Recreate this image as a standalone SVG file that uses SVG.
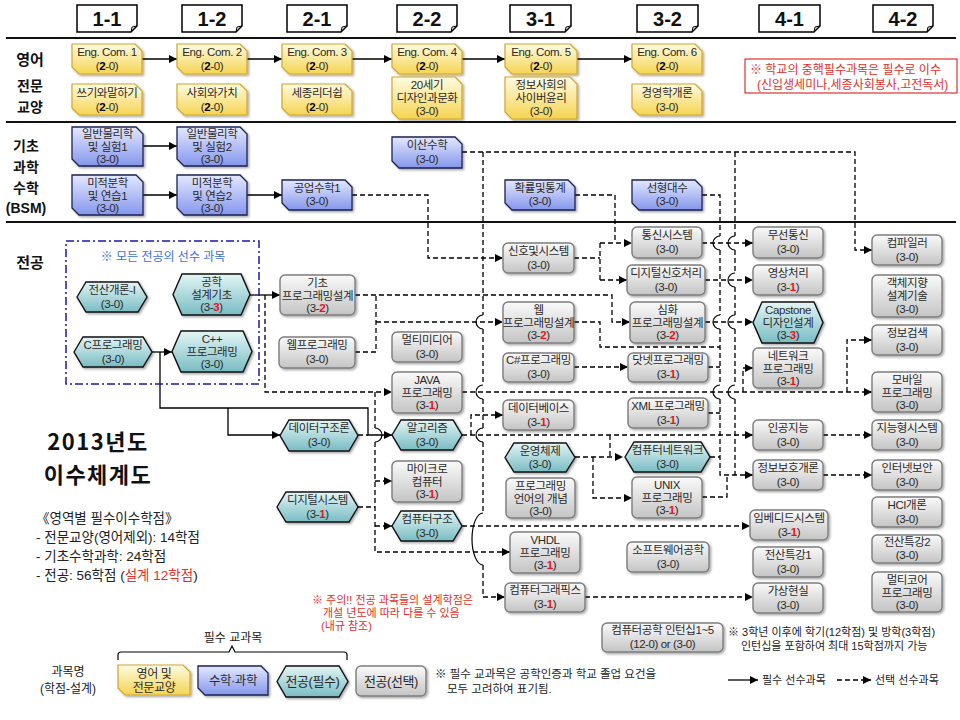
<svg xmlns="http://www.w3.org/2000/svg" width="960" height="720" viewBox="0 0 960 720">
<defs>
<linearGradient id="gy" x1="0" y1="0" x2="0" y2="1"><stop offset="0" stop-color="#fffbe2"/><stop offset="1" stop-color="#f5d452"/></linearGradient>
<linearGradient id="gb" x1="0" y1="0" x2="0" y2="1"><stop offset="0" stop-color="#e3e8ff"/><stop offset="1" stop-color="#8596ec"/></linearGradient>
<linearGradient id="gt" x1="0" y1="0" x2="0" y2="1"><stop offset="0" stop-color="#e4f5f5"/><stop offset="1" stop-color="#78bcc3"/></linearGradient>
<linearGradient id="gg" x1="0" y1="0" x2="0" y2="1"><stop offset="0" stop-color="#fafafa"/><stop offset="1" stop-color="#c4c4c4"/></linearGradient>
<filter id="sh" x="-10%" y="-10%" width="130%" height="140%"><feDropShadow dx="1.5" dy="1.5" stdDeviation="1" flood-color="#000" flood-opacity="0.35"/></filter>
<marker id="ar" viewBox="0 0 10 10" refX="10" refY="5" markerWidth="8" markerHeight="8" markerUnits="userSpaceOnUse" orient="auto"><path d="M0,0 L10,5 L0,10 Z" fill="#000"/></marker>
</defs>
<style>
.t{font-family:"Liberation Sans","Noto Sans CJK KR",sans-serif;font-size:11.5px;fill:#2a2a2a;text-anchor:middle;letter-spacing:-0.4px}
.r{fill:#e8141e;font-weight:bold}
.b{font-weight:bold;fill:#000}
.yl{fill:url(#gy);stroke:#d2a62a;stroke-width:1.2;filter:url(#sh)}
.bl{fill:url(#gb);stroke:#1c2250;stroke-width:1.3;filter:url(#sh)}
.te{fill:url(#gt);stroke:#111;stroke-width:1.4;filter:url(#sh)}
.gr{fill:url(#gg);stroke:#7d7d7d;stroke-width:1.4;filter:url(#sh)}
.hd{fill:#fff;stroke:#000;stroke-width:1.5}
.ht{font-family:"Liberation Sans",sans-serif;font-size:20px;font-weight:bold;text-anchor:middle;fill:#111}
.lab{font-family:"Noto Sans CJK KR",sans-serif;font-size:14px;font-weight:bold;text-anchor:middle;fill:#111}
.sep{stroke:#111;stroke-width:2}
.s{stroke:#000;stroke-width:1.3;fill:none}
.d{stroke:#000;stroke-width:1.3;fill:none;stroke-dasharray:5 3}
.arc{stroke:#000;stroke-width:1.2;fill:none}
.n{font-family:"Liberation Sans","Noto Sans CJK KR",sans-serif;font-size:11px;fill:#222}
.red{fill:#e0302a}
</style>
<rect width="960" height="720" fill="#fff"/>

<g id="separators">
<line class="sep" x1="6" y1="38" x2="956" y2="38"/>
<line class="sep" x1="6" y1="122" x2="956" y2="122"/>
<line class="sep" x1="6" y1="222" x2="956" y2="222"/>
</g>

<g id="headers">
<g id="h11"><path class="hd" d="M77,5 H137 V26 L131,32 H77 Z"/><path d="M131,32 L132,27 L137,26" fill="none" stroke="#000"/><text class="ht" x="107" y="26">1-1</text></g>
<g id="h12"><path class="hd" d="M182,5 H242 V26 L236,32 H182 Z"/><path d="M236,32 L237,27 L242,26" fill="none" stroke="#000"/><text class="ht" x="212" y="26">1-2</text></g>
<g id="h21"><path class="hd" d="M287,5 H347 V26 L341,32 H287 Z"/><path d="M341,32 L342,27 L347,26" fill="none" stroke="#000"/><text class="ht" x="317" y="26">2-1</text></g>
<g id="h22"><path class="hd" d="M397,5 H457 V26 L451,32 H397 Z"/><path d="M451,32 L452,27 L457,26" fill="none" stroke="#000"/><text class="ht" x="427" y="26">2-2</text></g>
<g id="h31"><path class="hd" d="M510,5 H571 V26 L565,32 H510 Z"/><path d="M565,32 L566,27 L571,26" fill="none" stroke="#000"/><text class="ht" x="540.5" y="26">3-1</text></g>
<g id="h32"><path class="hd" d="M637,5 H698 V26 L692,32 H637 Z"/><path d="M692,32 L693,27 L698,26" fill="none" stroke="#000"/><text class="ht" x="667.5" y="26">3-2</text></g>
<g id="h41"><path class="hd" d="M759,5 H820 V26 L814,32 H759 Z"/><path d="M814,32 L815,27 L820,26" fill="none" stroke="#000"/><text class="ht" x="789.5" y="26">4-1</text></g>
<g id="h42"><path class="hd" d="M873,5 H933 V26 L927,32 H873 Z"/><path d="M927,32 L928,27 L933,26" fill="none" stroke="#000"/><text class="ht" x="903" y="26">4-2</text></g>
</g>

<g id="rowlabels">
<text class="lab" x="30" y="65" style="font-size:15px">영어</text>
<text class="lab" x="30" y="91">전문</text>
<text class="lab" x="30" y="112">교양</text>
<text class="lab" x="26" y="151">기초</text>
<text class="lab" x="26" y="172">과학</text>
<text class="lab" x="26" y="193">수학</text>
<text class="lab" x="26" y="213" style="font-family:'Liberation Sans',sans-serif">(BSM)</text>
<text class="lab" x="30" y="268" style="font-size:15px">전공</text>
</g>

<g id="connectors">
<path class="s" marker-end="url(#ar)" d="M142,59 H177"/>
<path class="s" marker-end="url(#ar)" d="M247,59 H282"/>
<path class="s" marker-end="url(#ar)" d="M352,59 H392"/>
<path class="s" marker-end="url(#ar)" d="M462,59 H505"/>
<path class="s" marker-end="url(#ar)" d="M577,59 H632"/>
<path class="s" marker-end="url(#ar)" d="M143,146 H177"/>
<path class="s" marker-end="url(#ar)" d="M143,195 H177"/>
<path class="s" marker-end="url(#ar)" d="M247,195 H282"/>
<path class="d" marker-end="url(#ar)" d="M352,195 H428 V258 H503"/>
<path class="d" marker-end="url(#ar)" d="M462,152 H855 V250 H872"/>
<path class="d" d="M575,195 H615 V243"/>
<path class="d" marker-end="url(#ar)" d="M483,152 V315 M483,329 V385 M483,399 V428 M483,442 V513 M483,565 V597 H505"/>
<path class="arc" d="M483,315 A7,7 0 0 0 483,329 M483,385 A7,7 0 0 0 483,399 M483,428 A7,7 0 0 0 483,442 M483,513 A11,26 0 0 0 483,565"/>
<path class="d" marker-end="url(#ar)" d="M702,195 H720 V236 M720,250 V315 M720,329 V385 M720,399 V475 H753"/>
<path class="arc" d="M720,236 A7,7 0 0 0 720,250 M720,315 A7,7 0 0 0 720,329 M720,385 A7,7 0 0 0 720,399"/>
<path class="d" d="M735,152 V236 M735,250 V273 M735,287 V315 M735,329 V385 M735,399 V475"/>
<path class="arc" d="M735,236 A7,7 0 0 0 735,250 M735,273 A7,7 0 0 0 735,287 M735,315 A7,7 0 0 0 735,329 M735,385 A7,7 0 0 0 735,399"/>
<path class="d" d="M574,258 H600 M600,243 V280"/>
<path class="d" marker-end="url(#ar)" d="M600,243 H632"/>
<path class="d" marker-end="url(#ar)" d="M600,280 H627"/>
<path class="d" marker-end="url(#ar)" d="M702,243 H753"/>
<path class="d" marker-end="url(#ar)" d="M705,280 H753"/>
<path class="d" marker-end="url(#ar)" d="M705,322 H753"/>
<path class="s" marker-end="url(#ar)" d="M250,295 H280"/>
<path class="d" marker-end="url(#ar)" d="M355,295 H612 V322 H630"/>
<path class="d" d="M355,352 H376 V295"/>
<path class="d" marker-end="url(#ar)" d="M376,322 H503"/>
<path class="d" d="M574,322 H600 V347 H720"/>
<path class="d" marker-end="url(#ar)" d="M265,295 V392 H392"/>
<path class="d" marker-end="url(#ar)" d="M462,392 H872"/>
<path class="d" marker-end="url(#ar)" d="M743,392 V368 H753"/>
<path class="d" marker-end="url(#ar)" d="M847,392 V340 H872"/>
<path class="d" marker-end="url(#ar)" d="M574,367 H628"/>
<path class="d" d="M708,367 H720 M708,413 H720 M710,457 H720"/>
<path class="s" marker-end="url(#ar)" d="M152,352 H172"/>
<path class="s" marker-end="url(#ar)" d="M160,352 V408 H368 V435 H392"/>
<path class="s" marker-end="url(#ar)" d="M228,408 V435 H280"/>
<path class="d" d="M358,435 H368"/>
<path class="d" marker-end="url(#ar)" d="M375,392 V428 M375,442 V552 H510"/>
<path class="arc" d="M375,428 A7,7 0 0 1 375,442"/>
<path class="d" d="M358,507 H375"/>
<path class="d" marker-end="url(#ar)" d="M375,481 H392"/>
<path class="d" marker-end="url(#ar)" d="M375,526 H392"/>
<path class="d" marker-end="url(#ar)" d="M462,435 H753"/>
<path class="d" marker-end="url(#ar)" d="M471,435 V415 H503"/>
<path class="d" d="M610,435 V457"/>
<path class="d" marker-end="url(#ar)" d="M575,457 H623"/>
<path class="d" marker-end="url(#ar)" d="M593,457 V498 H632"/>
<path class="d" d="M702,497 H727 V475"/>
<path class="d" marker-end="url(#ar)" d="M462,526 H750"/>
<path class="d" marker-end="url(#ar)" d="M585,597 H753"/>
<path class="d" marker-end="url(#ar)" d="M823,435 H872"/>
<path class="d" marker-end="url(#ar)" d="M823,475 H872"/>
</g>

<g id="core-frame">
<rect x="66" y="241" width="193" height="143" fill="none" stroke="#1a1aa8" stroke-width="1.5" stroke-dasharray="8 3 2 3"/>
<text class="n" x="163" y="261" text-anchor="middle" style="fill:#3a70d0;font-size:12px">※ 모든 전공의 선수 과목</text>
</g>

<g id="eng1"><path class="yl" d="M72,44 H135 L142,51 V74 H79 L72,67 Z"/><text class="t" x="107" y="56">Eng. Com. 1</text><text class="t" x="107" y="70">(<tspan class="b">2</tspan>-0)</text></g>
<g id="eng2"><path class="yl" d="M177,44 H240 L247,51 V74 H184 L177,67 Z"/><text class="t" x="212" y="56">Eng. Com. 2</text><text class="t" x="212" y="70">(<tspan class="b">2</tspan>-0)</text></g>
<g id="eng3"><path class="yl" d="M282,44 H345 L352,51 V74 H289 L282,67 Z"/><text class="t" x="317" y="56">Eng. Com. 3</text><text class="t" x="317" y="70">(<tspan class="b">2</tspan>-0)</text></g>
<g id="eng4"><path class="yl" d="M392,44 H455 L462,51 V74 H399 L392,67 Z"/><text class="t" x="427" y="56">Eng. Com. 4</text><text class="t" x="427" y="70">(<tspan class="b">2</tspan>-0)</text></g>
<g id="eng5"><path class="yl" d="M505,44 H570 L577,51 V74 H512 L505,67 Z"/><text class="t" x="541" y="56">Eng. Com. 5</text><text class="t" x="541" y="70">(<tspan class="b">2</tspan>-0)</text></g>
<g id="eng6"><path class="yl" d="M632,44 H695 L702,51 V74 H639 L632,67 Z"/><text class="t" x="667" y="56">Eng. Com. 6</text><text class="t" x="667" y="70">(<tspan class="b">2</tspan>-0)</text></g>
<g id="ge1"><path class="yl" d="M72,84 H135 L142,91 V115 H79 L72,108 Z"/><text class="t" x="107" y="97">쓰기와말하기</text><text class="t" x="107" y="111">(<tspan class="b">2</tspan>-0)</text></g>
<g id="ge2"><path class="yl" d="M177,84 H240 L247,91 V115 H184 L177,108 Z"/><text class="t" x="212" y="97">사회와가치</text><text class="t" x="212" y="111">(<tspan class="b">2</tspan>-0)</text></g>
<g id="ge3"><path class="yl" d="M282,84 H345 L352,91 V115 H289 L282,108 Z"/><text class="t" x="317" y="97">세종리더쉽</text><text class="t" x="317" y="111">(<tspan class="b">2</tspan>-0)</text></g>
<g id="ge4"><path class="yl" d="M392,77 H455 L462,84 V119 H399 L392,112 Z"/><text class="t" x="427" y="89">20세기</text><text class="t" x="427" y="102">디자인과문화</text><text class="t" x="427" y="115">(3-0)</text></g>
<g id="ge5"><path class="yl" d="M505,77 H570 L577,84 V119 H512 L505,112 Z"/><text class="t" x="541" y="89">정보사회의</text><text class="t" x="541" y="102">사이버윤리</text><text class="t" x="541" y="115">(3-0)</text></g>
<g id="ge6"><path class="yl" d="M632,84 H695 L702,91 V115 H639 L632,108 Z"/><text class="t" x="667" y="97">경영학개론</text><text class="t" x="667" y="111">(3-0)</text></g>

<g id="note-core">
<rect x="745" y="59" width="212" height="34" fill="#fff" stroke="#e03030" stroke-width="1.2"/>
<text class="n red" x="750" y="74" style="font-size:12px">※ 학교의 중핵필수과목은 필수로 이수</text>
<text class="n red" x="757" y="89" style="font-size:12px">(신입생세미나,세종사회봉사,고전독서)</text>
</g>

<g id="phy1"><path class="bl" d="M72,127 H136 L143,134 V166 H79 L72,159 Z"/><text class="t" x="107.5" y="138">일반물리학</text><text class="t" x="107.5" y="151">및 실험1</text><text class="t" x="107.5" y="163">(3-0)</text></g>
<g id="phy2"><path class="bl" d="M177,127 H240 L247,134 V166 H184 L177,159 Z"/><text class="t" x="212" y="138">일반물리학</text><text class="t" x="212" y="151">및 실험2</text><text class="t" x="212" y="163">(3-0)</text></g>
<g id="cal1"><path class="bl" d="M72,175 H136 L143,182 V215 H79 L72,208 Z"/><text class="t" x="107.5" y="187">미적분학</text><text class="t" x="107.5" y="200">및 연습1</text><text class="t" x="107.5" y="212">(3-0)</text></g>
<g id="cal2"><path class="bl" d="M177,175 H240 L247,182 V215 H184 L177,208 Z"/><text class="t" x="212" y="187">미적분학</text><text class="t" x="212" y="200">및 연습2</text><text class="t" x="212" y="212">(3-0)</text></g>
<g id="engmath"><path class="bl" d="M282,180 H345 L352,187 V210 H289 L282,203 Z"/><text class="t" x="317" y="192">공업수학1</text><text class="t" x="317" y="205">(3-0)</text></g>
<g id="discrete"><path class="bl" d="M392,137 H455 L462,144 V168 H399 L392,161 Z"/><text class="t" x="427" y="149">이산수학</text><text class="t" x="427" y="163">(3-0)</text></g>
<g id="prob"><path class="bl" d="M505,180 H568 L575,187 V210 H512 L505,203 Z"/><text class="t" x="540" y="192">확률및통계</text><text class="t" x="540" y="205">(3-0)</text></g>
<g id="linalg"><path class="bl" d="M632,180 H695 L702,187 V210 H639 L632,203 Z"/><text class="t" x="667" y="192">선형대수</text><text class="t" x="667" y="205">(3-0)</text></g>

<g id="intro"><path class="te" d="M77,297 L86,282 H138 L147,297 L138,312 H86 Z"/><text class="t" x="112" y="294">전산개론-I</text><text class="t" x="112" y="308">(3-0)</text></g>
<g id="engdesign"><path class="te" d="M173,294.5 L182,274 H241 L250,294.5 L241,315 H182 Z"/><text class="t" x="211.5" y="286">공학</text><text class="t" x="211.5" y="299">설계기초</text><text class="t" x="211.5" y="311">(3-<tspan class="r">3</tspan>)</text></g>
<g id="cprog"><path class="te" d="M74,352 L83,337 H143 L152,352 L143,367 H83 Z"/><text class="t" x="113" y="349">C프로그래밍</text><text class="t" x="113" y="363">(3-0)</text></g>
<g id="cpp"><path class="te" d="M172,351.5 L181,331 H243 L252,351.5 L243,372 H181 Z"/><text class="t" x="212" y="343">C++</text><text class="t" x="212" y="356">프로그래밍</text><text class="t" x="212" y="368">(3-0)</text></g>
<g id="datastruct"><path class="te" d="M280,435.5 L289,420 H349 L358,435.5 L349,451 H289 Z"/><text class="t" x="319" y="432">데이터구조론</text><text class="t" x="319" y="446">(3-0)</text></g>
<g id="digsys"><path class="te" d="M277,507 L286,492 H349 L358,507 L349,522 H286 Z"/><text class="t" x="317.5" y="504">디지털시스템</text><text class="t" x="317.5" y="518">(3-<tspan class="r">1</tspan>)</text></g>
<g id="algo"><path class="te" d="M392,435 L401,420 H453 L462,435 L453,450 H401 Z"/><text class="t" x="427" y="432">알고리즘</text><text class="t" x="427" y="446">(3-0)</text></g>
<g id="arch"><path class="te" d="M392,526 L401,511 H453 L462,526 L453,541 H401 Z"/><text class="t" x="427" y="523">컴퓨터구조</text><text class="t" x="427" y="537">(3-0)</text></g>
<g id="os"><path class="te" d="M505,457.5 L514,443 H566 L575,457.5 L566,472 H514 Z"/><text class="t" x="540" y="455">운영체제</text><text class="t" x="540" y="468">(3-0)</text></g>
<g id="network"><path class="te" d="M625,457 L634,442 H701 L710,457 L701,472 H634 Z"/><text class="t" x="667.5" y="454">컴퓨터네트워크</text><text class="t" x="667.5" y="468">(3-0)</text></g>
<g id="capstone"><path class="te" d="M753,322.5 L762,302 H814 L823,322.5 L814,343 H762 Z"/><text class="t" x="788" y="314">Capstone</text><text class="t" x="788" y="327">디자인설계</text><text class="t" x="788" y="339">(3-<tspan class="r">3</tspan>)</text></g>

<g id="basicpd"><rect class="gr" x="280" y="275" width="75" height="40" rx="5"/><text class="t" x="317.5" y="287">기초</text><text class="t" x="317.5" y="300">프로그래밍설계</text><text class="t" x="317.5" y="312">(3-<tspan class="r">2</tspan>)</text></g>
<g id="webprog"><rect class="gr" x="279" y="337" width="76" height="31" rx="5"/><text class="t" x="317" y="349">웹프로그래밍</text><text class="t" x="317" y="363">(3-0)</text></g>
<g id="signal"><rect class="gr" x="503" y="243" width="71" height="30" rx="5"/><text class="t" x="538.5" y="255">신호및시스템</text><text class="t" x="538.5" y="269">(3-0)</text></g>
<g id="comm"><rect class="gr" x="632" y="227" width="70" height="31" rx="5"/><text class="t" x="667" y="239">통신시스템</text><text class="t" x="667" y="253">(3-0)</text></g>
<g id="dsp"><rect class="gr" x="627" y="265" width="78" height="30" rx="5"/><text class="t" x="666" y="277">디지털신호처리</text><text class="t" x="666" y="291">(3-0)</text></g>
<g id="webpd"><rect class="gr" x="503" y="302" width="71" height="41" rx="5"/><text class="t" x="538.5" y="314">웹</text><text class="t" x="538.5" y="327">프로그래밍설계</text><text class="t" x="538.5" y="339">(3-<tspan class="r">2</tspan>)</text></g>
<g id="advpd"><rect class="gr" x="630" y="302" width="75" height="41" rx="5"/><text class="t" x="667.5" y="314">심화</text><text class="t" x="667.5" y="327">프로그래밍설계</text><text class="t" x="667.5" y="339">(3-<tspan class="r">2</tspan>)</text></g>
<g id="multimedia"><rect class="gr" x="392" y="332" width="70" height="30" rx="5"/><text class="t" x="427" y="344">멀티미디어</text><text class="t" x="427" y="358">(3-0)</text></g>
<g id="java"><rect class="gr" x="392" y="372" width="70" height="41" rx="5"/><text class="t" x="427" y="384">JAVA</text><text class="t" x="427" y="397">프로그래밍</text><text class="t" x="427" y="409">(3-<tspan class="r">1</tspan>)</text></g>
<g id="csharp"><rect class="gr" x="503" y="353" width="71" height="29" rx="5"/><text class="t" x="538.5" y="364">C#프로그래밍</text><text class="t" x="538.5" y="378">(3-0)</text></g>
<g id="dotnet"><rect class="gr" x="628" y="353" width="80" height="29" rx="5"/><text class="t" x="668" y="364">닷넷프로그래밍</text><text class="t" x="668" y="378">(3-<tspan class="r">1</tspan>)</text></g>
<g id="db"><rect class="gr" x="503" y="400" width="71" height="30" rx="5"/><text class="t" x="538.5" y="412">데이터베이스</text><text class="t" x="538.5" y="426">(3-<tspan class="r">1</tspan>)</text></g>
<g id="xml"><rect class="gr" x="628" y="398" width="80" height="30" rx="5"/><text class="t" x="668" y="410">XML프로그래밍</text><text class="t" x="668" y="424">(3-<tspan class="r">1</tspan>)</text></g>
<g id="micro"><rect class="gr" x="392" y="461" width="70" height="41" rx="5"/><text class="t" x="427" y="473">마이크로</text><text class="t" x="427" y="486">컴퓨터</text><text class="t" x="427" y="498">(3-<tspan class="r">1</tspan>)</text></g>
<g id="plc"><rect class="gr" x="506" y="478" width="69" height="40" rx="5"/><text class="t" x="540.5" y="490">프로그래밍</text><text class="t" x="540.5" y="503">언어의 개념</text><text class="t" x="540.5" y="515">(3-0)</text></g>
<g id="unix"><rect class="gr" x="632" y="477" width="70" height="41" rx="5"/><text class="t" x="667" y="489">UNIX</text><text class="t" x="667" y="502">프로그래밍</text><text class="t" x="667" y="514">(3-<tspan class="r">1</tspan>)</text></g>
<g id="vhdl"><rect class="gr" x="510" y="532" width="70" height="41" rx="5"/><text class="t" x="545" y="544">VHDL</text><text class="t" x="545" y="557">프로그래밍</text><text class="t" x="545" y="569">(3-<tspan class="r">1</tspan>)</text></g>
<g id="swe"><rect class="gr" x="627" y="542" width="82" height="30" rx="5"/><text class="t" x="668" y="554">소프트웨어공학</text><text class="t" x="668" y="568">(3-0)</text></g>
<g id="graphics"><rect class="gr" x="505" y="583" width="80" height="29" rx="5"/><text class="t" x="545" y="594">컴퓨터그래픽스</text><text class="t" x="545" y="608">(3-<tspan class="r">1</tspan>)</text></g>
<g id="intern"><rect class="gr" x="602" y="623" width="121" height="29" rx="5"/><text class="t" x="662.5" y="634">컴퓨터공학 인턴십1~5</text><text class="t" x="662.5" y="648">(12-0) or (3-0)</text></g>
<g id="wireless"><rect class="gr" x="753" y="227" width="70" height="31" rx="5"/><text class="t" x="788" y="239">무선통신</text><text class="t" x="788" y="253">(3-0)</text></g>
<g id="image"><rect class="gr" x="753" y="265" width="70" height="30" rx="5"/><text class="t" x="788" y="277">영상처리</text><text class="t" x="788" y="291">(3-<tspan class="r">1</tspan>)</text></g>
<g id="netprog"><rect class="gr" x="753" y="348" width="70" height="40" rx="5"/><text class="t" x="788" y="360">네트워크</text><text class="t" x="788" y="373">프로그래밍</text><text class="t" x="788" y="385">(3-<tspan class="r">1</tspan>)</text></g>
<g id="ai"><rect class="gr" x="753" y="420" width="70" height="30" rx="5"/><text class="t" x="788" y="432">인공지능</text><text class="t" x="788" y="446">(3-0)</text></g>
<g id="security"><rect class="gr" x="753" y="460" width="70" height="30" rx="5"/><text class="t" x="788" y="472">정보보호개론</text><text class="t" x="788" y="486">(3-0)</text></g>
<g id="embedded"><rect class="gr" x="750" y="510" width="78" height="30" rx="5"/><text class="t" x="789" y="522">임베디드시스템</text><text class="t" x="789" y="536">(3-<tspan class="r">1</tspan>)</text></g>
<g id="special1"><rect class="gr" x="753" y="547" width="70" height="30" rx="5"/><text class="t" x="788" y="559">전산특강1</text><text class="t" x="788" y="573">(3-0)</text></g>
<g id="vr"><rect class="gr" x="753" y="583" width="70" height="30" rx="5"/><text class="t" x="788" y="595">가상현실</text><text class="t" x="788" y="609">(3-0)</text></g>
<g id="compiler"><rect class="gr" x="872" y="235" width="70" height="30" rx="5"/><text class="t" x="907" y="247">컴파일러</text><text class="t" x="907" y="261">(3-0)</text></g>
<g id="oodesign"><rect class="gr" x="872" y="275" width="70" height="42" rx="5"/><text class="t" x="907" y="287">객체지향</text><text class="t" x="907" y="300">설계기술</text><text class="t" x="907" y="313">(3-0)</text></g>
<g id="ir"><rect class="gr" x="872" y="325" width="70" height="30" rx="5"/><text class="t" x="907" y="337">정보검색</text><text class="t" x="907" y="351">(3-0)</text></g>
<g id="mobile"><rect class="gr" x="872" y="372" width="70" height="40" rx="5"/><text class="t" x="907" y="384">모바일</text><text class="t" x="907" y="397">프로그래밍</text><text class="t" x="907" y="409">(3-0)</text></g>
<g id="intsys"><rect class="gr" x="872" y="420" width="70" height="30" rx="5"/><text class="t" x="907" y="432">지능형시스템</text><text class="t" x="907" y="446">(3-0)</text></g>
<g id="netsec"><rect class="gr" x="872" y="460" width="70" height="30" rx="5"/><text class="t" x="907" y="472">인터넷보안</text><text class="t" x="907" y="486">(3-0)</text></g>
<g id="hci"><rect class="gr" x="872" y="497" width="70" height="30" rx="5"/><text class="t" x="907" y="509">HCI개론</text><text class="t" x="907" y="523">(3-0)</text></g>
<g id="special2"><rect class="gr" x="872" y="535" width="70" height="28" rx="5"/><text class="t" x="907" y="546">전산특강2</text><text class="t" x="907" y="559">(3-0)</text></g>
<g id="multicore"><rect class="gr" x="872" y="572" width="70" height="40" rx="5"/><text class="t" x="907" y="584">멀티코어</text><text class="t" x="907" y="597">프로그래밍</text><text class="t" x="907" y="609">(3-0)</text></g>

<g id="title">
<text x="98" y="450" text-anchor="middle" style="font-family:'Noto Sans CJK KR',sans-serif;font-size:22px;font-weight:bold;fill:#111;letter-spacing:1.5px">2013년도</text>
<text x="98" y="483" text-anchor="middle" style="font-family:'Noto Sans CJK KR',sans-serif;font-size:22px;font-weight:bold;fill:#111;letter-spacing:1.5px">이수체계도</text>
</g>
<g id="credits" style="font-family:'Liberation Sans','Noto Sans CJK KR',sans-serif;font-size:13.5px;fill:#222">
<text x="36" y="523">《영역별 필수이수학점》</text>
<text x="36" y="542">- 전문교양(영어제외): 14학점</text>
<text x="36" y="561">- 기초수학과학: 24학점</text>
<text x="36" y="580">- 전공: 56학점  (<tspan fill="#e0302a">설계 12학점</tspan>)</text>
</g>

<g id="caution">
<text class="n red" x="312" y="604">※ 주의!! 전공 과목들의 설계학점은</text>
<text class="n red" x="323" y="617">개설 년도에 따라 다를 수 있음</text>
<text class="n red" x="321" y="630">(내규 참조)</text>
</g>

<g id="intern-note">
<text class="n" x="728" y="636">※ 3학년 이후에 학기(12학점) 및 방학(3학점)</text>
<text class="n" x="741" y="650">인턴십을 포함하여 최대 15학점까지 가능</text>
</g>

<g id="legend">
<text class="n" x="233" y="642" text-anchor="middle" style="font-size:12px">필수 교과목</text>
<path d="M118,660 V655 Q118,652 121,652 H229 L232,646 L235,652 H344 Q347,652 347,655 V660" fill="none" stroke="#000" stroke-width="1.2"/>
<text class="n" x="68" y="676" text-anchor="middle" style="font-size:12px">과목명</text>
<text class="n" x="68" y="693" text-anchor="middle" style="font-size:12px">(학점-설계)</text>
<g id="lg-yellow"><path class="yl" d="M118,665 H183 L190,672 V695 H125 L118,688 Z"/><text class="t" x="154" y="678" style="font-size:12px">영어 및</text><text class="t" x="154" y="692" style="font-size:12px">전문교양</text></g>
<g id="lg-blue"><path class="bl" d="M198,666 H261 L268,673 V695 H205 L198,688 Z"/><text class="t" x="233" y="685" style="font-size:12.5px">수학·과학</text></g>
<g id="lg-teal"><path class="te" d="M277,681.5 L286,666 H339 L348,681.5 L339,697 H286 Z"/><text class="t" x="312.5" y="686" style="font-size:13px">전공(필수)</text></g>
<g id="lg-gray"><rect class="gr" x="356" y="666" width="70" height="30" rx="5"/><text class="t" x="391" y="686" style="font-size:13px">전공(선택)</text></g>
<text class="n" x="435" y="678" style="font-size:11.5px">※ 필수 교과목은 공학인증과 학교 졸업 요건을</text>
<text class="n" x="447" y="693" style="font-size:11.5px">모두 고려하여 표기됨.</text>
<path class="s" marker-end="url(#ar)" d="M728,680 H758"/>
<text class="n" x="762" y="684">필수 선수과목</text>
<path class="d" marker-end="url(#ar)" d="M837,680 H871"/>
<text class="n" x="875" y="684">선택 선수과목</text>
</g>
</svg>
